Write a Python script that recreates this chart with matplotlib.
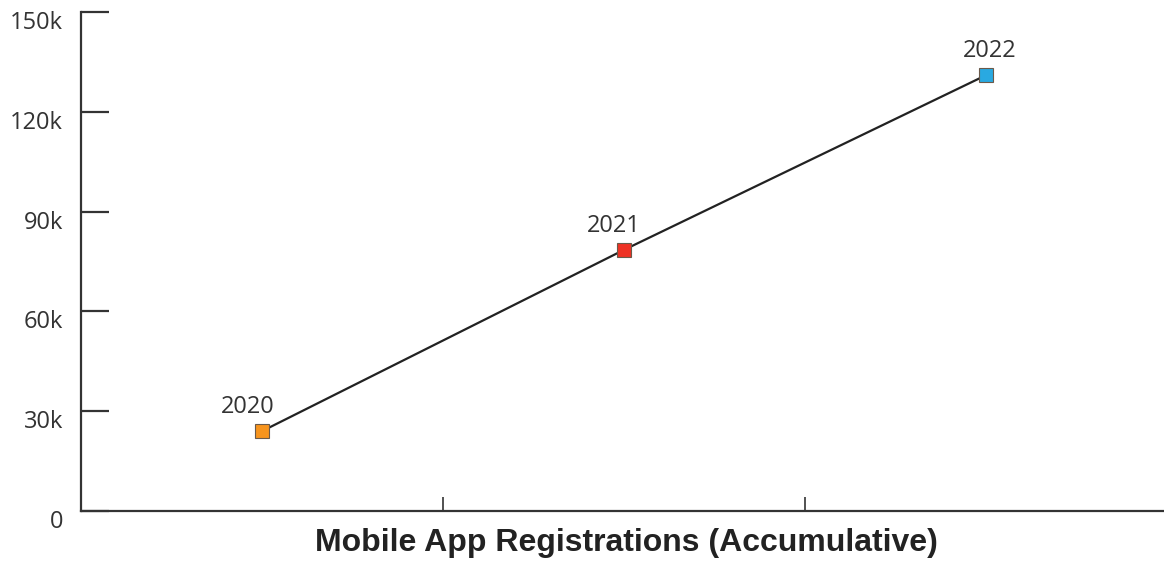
import matplotlib
matplotlib.use("Agg")
import matplotlib.pyplot as plt
import matplotlib.transforms as mtransforms
from matplotlib import font_manager

years = ["2020", "2021", "2022"]
values = [24000, 78500, 131000]
x_pos = [0.5, 1.5, 2.5]
colors = ["#F7941D", "#EE3224", "#29A9E1"]
label_dx = [-14, -10, 4]  # pixel nudges of year labels
y_ticks = [0, 30000, 60000, 90000, 120000, 150000]
y_tick_labels = ["0", "30k", "60k", "90k", "120k", "150k"]
x_label = "Mobile App Registrations (Accumulative)"

names = {f.name for f in font_manager.fontManager.ttflist}
title_font = "Liberation Sans Narrow" if "Liberation Sans Narrow" in names else "Liberation Sans"

fig = plt.figure(figsize=(11.64, 5.62), dpi=100)
ax = fig.add_axes([81/1164, 51/562, 1086/1164, 499/562])

ax.plot(x_pos, values, color="#222222", lw=1.6, zorder=2)
for x, v, c, yr, dx in zip(x_pos, values, colors, years, label_dx):
    ax.plot([x], [v], marker="s", ms=10.5, mfc=c, mec="#6b5a4a", mew=0.8, zorder=3)
    ax.annotate(yr, (x, v), xytext=(dx * 0.72, 13), textcoords="offset points",
                ha="center", va="baseline", fontsize=17, color="#333333",
                family="Open Sans")

ax.set_xlim(0, 3)
ax.set_ylim(0, 150000)
ax.set_xticks([1, 2])
ax.set_xticklabels([])
ax.set_yticks(y_ticks)
ax.set_yticklabels(y_tick_labels, fontsize=17, color="#333333", family="Open Sans")
ax.tick_params(axis="y", direction="in", length=20, width=1.6, color="#333333", pad=13)
ax.tick_params(axis="x", direction="in", length=10, width=1.2, color="#333333")
shift = mtransforms.ScaledTranslation(0, -8 / 100, fig.dpi_scale_trans)
for lbl in ax.get_yticklabels():
    lbl.set_transform(lbl.get_transform() + shift)
for s in ["top", "right"]:
    ax.spines[s].set_visible(False)
for s in ["left", "bottom"]:
    ax.spines[s].set_linewidth(1.6)
    ax.spines[s].set_color("#333333")

fig.text(626/1164, 1 - 543/562, x_label, ha="center", va="center",
         fontsize=23, fontweight="bold", color="#222222", family=title_font)

fig.savefig("out.png", dpi=100)
